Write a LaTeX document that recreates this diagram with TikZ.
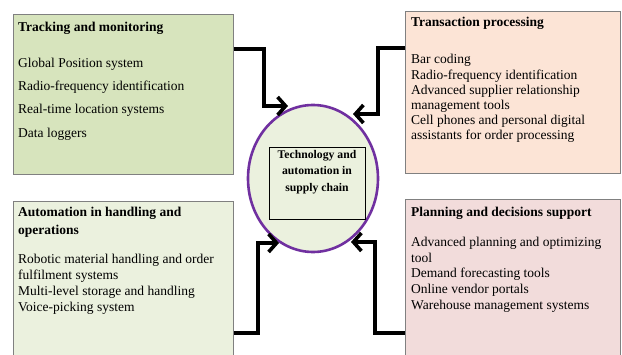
\documentclass[tikz,border=0pt]{standalone}
\usepackage{fontspec}
\setmainfont{Liberation Serif}
\usepackage{tikz}
\usetikzlibrary{positioning,shapes.geometric,arrows.meta,calc}
\definecolor{trackgreen}{HTML}{D7E4BD}
\definecolor{transpeach}{HTML}{FCE4D6}
\definecolor{autogreen}{HTML}{EBF1DE}
\definecolor{planpink}{HTML}{F2DCDB}
\definecolor{corepurple}{HTML}{7030A0}

\begin{document}
\begin{tikzpicture}[x=1pt,y=1pt,
        box/.style={draw=black!50, line width=0.8pt, anchor=north west, minimum width=220pt, inner sep=0pt},
        head/.style={anchor=base west, inner sep=0pt, font=\fontsize{13.5}{15}\selectfont\bfseries},
        item/.style={anchor=base west, inner sep=0pt, font=\fontsize{13.5}{15}\selectfont},
        flow/.style={line width=3.6pt, -{Straight Barb[length=8pt,width=18pt]}}]
    \useasboundingbox (0,0) rectangle (622,354);
    \clip (0,0) rectangle (622,354);

    \node[box, fill=trackgreen, minimum height=160pt] (tl) at (13,340) {};
    \node[box, fill=transpeach, minimum width=215pt, minimum height=162pt] (tr) at (405,343) {};
    \node[box, fill=autogreen, minimum height=160pt] (bl) at (13,153) {};
    \node[box, fill=planpink, minimum width=215pt, minimum height=160pt] (br) at (405,155) {};

    \node[head] (tlhead) at (18,322) {Tracking and monitoring};
    \foreach \t [count=\i] in {Global Position system, Radio-frequency identification,
            Real-time location systems, Data loggers} {
        \node[item] (tl\i) at (18,310-23.3*\i) {\t};
    }

    \node[head] (trhead) at (411,327) {Transaction processing};
    \foreach \t [count=\i] in {Bar coding, Radio-frequency identification,
            Advanced supplier relationship, management tools,
            Cell phones and personal digital, assistants for order processing} {
        \node[item] (tr\i) at (411,305.2-15.2*\i) {\t};
    }

    \node[head] (blhead) at (18,137) {Automation in handling and};
    \node[head] (blhead2) at (18,119) {operations};
    \foreach \t [count=\i] in {Robotic material handling and order, fulfilment systems,
            Multi-level storage and handling, Voice-picking system} {
        \node[item] (bl\i) at (18,105.7-15.7*\i) {\t};
    }

    \node[head] (brhead) at (411,137) {Planning and decisions support};
    \foreach \t [count=\i] in {Advanced planning and optimizing, tool,
            Demand forecasting tools, Online vendor portals,
            Warehouse management systems} {
        \node[item] (br\i) at (411,122.5-15.5*\i) {\t};
    }

    \node[ellipse, draw=corepurple, line width=2.6pt, fill=autogreen,
        minimum width=130pt, minimum height=147pt] (ell) at (313,175.5) {};
    \node[draw, line width=0.7pt, minimum width=96pt, minimum height=72pt] (core) at (317,171) {};
    \foreach \t [count=\i] in {Technology and, automation in, supply chain} {
        \node[anchor=base, inner sep=0pt, font=\fontsize{11.7}{13}\selectfont\bfseries] (core\i)
            at (317,212-16.5*\i) {\t};
    }

    \coordinate (tltip) at (288,248);
    \coordinate (trtip) at (353,240);
    \coordinate (bltip) at (279,111);
    \coordinate (brtip) at (351,112);

    \draw[flow] ([yshift=-35pt]tl.north east) -- ++(30,0) |- (tltip);
    \draw[flow] ([yshift=-37pt]tr.north west) -- ++(-27,0) |- (trtip);
    \draw[flow] ([yshift=-132pt]bl.north east) -- ++(24,0) |- (bltip);
    \draw[flow] ([yshift=-134pt]br.north west) -- ++(-30,0) |- (brtip);
\end{tikzpicture}
\end{document}
